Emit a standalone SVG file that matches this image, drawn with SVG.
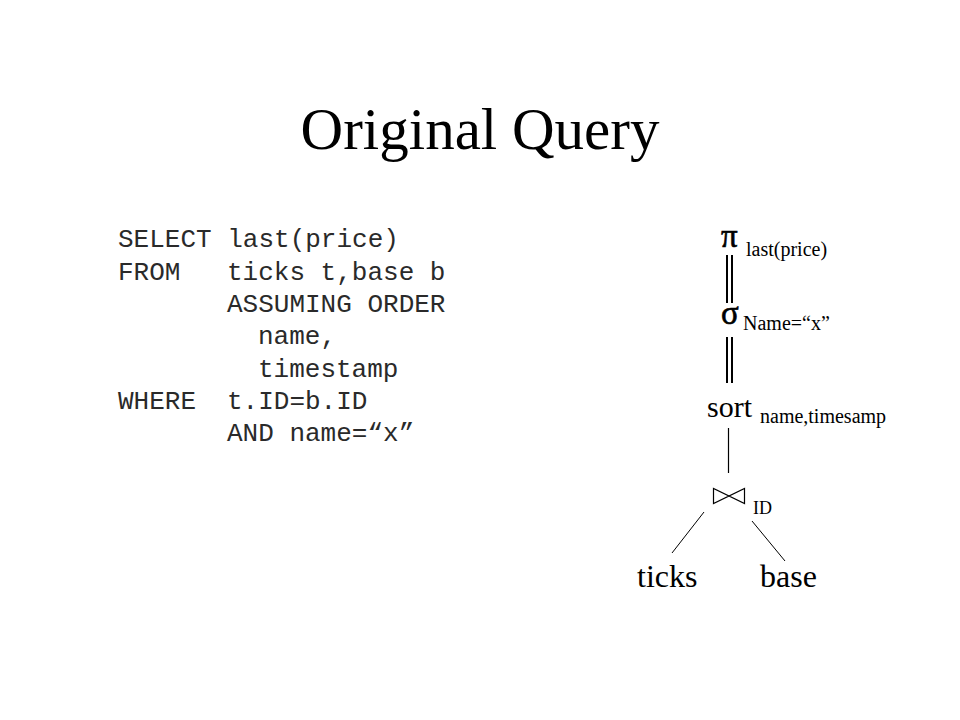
<svg xmlns="http://www.w3.org/2000/svg" width="960" height="720" viewBox="0 0 960 720">
<style>
.serif{font-family:"Liberation Serif","Times New Roman",serif;fill:#000}
.mono{font-family:"Liberation Mono","Courier New",monospace;font-size:26px;fill:#2a2a2a}
.sub{font-size:20px}
.big{font-size:30px}
.greek{font-size:33px;stroke:#000;stroke-width:0.6}
.edge{stroke:#000;fill:none}
</style>
<rect width="960" height="720" fill="#fff"/>
<text class="serif" x="480" y="149" font-size="59" text-anchor="middle">Original Query</text>
<g id="sql">
<text class="mono" x="118" y="247">SELECT last(price)</text>
<text class="mono" x="118" y="280">FROM</text>
<text class="mono" x="227" y="280">ticks t,base b</text>
<text class="mono" x="227" y="312">ASSUMING ORDER</text>
<text class="mono" x="258" y="344">name,</text>
<text class="mono" x="258" y="377">timestamp</text>
<text class="mono" x="118" y="409">WHERE</text>
<text class="mono" x="227" y="409">t.ID=b.ID</text>
<text class="mono" x="227" y="441">AND name=“x”</text>
</g>
<g id="connectors">
<line class="edge" x1="727" y1="255" x2="727" y2="303" stroke-width="2"/>
<line class="edge" x1="732" y1="255" x2="732" y2="303" stroke-width="2"/>
<line class="edge" x1="727" y1="337" x2="727" y2="383" stroke-width="2"/>
<line class="edge" x1="732" y1="337" x2="732" y2="383" stroke-width="2"/>
<line class="edge" x1="728.5" y1="428" x2="728.5" y2="473" stroke-width="1.2"/>
<line class="edge" x1="704" y1="512" x2="672" y2="553" stroke-width="1"/>
<line class="edge" x1="752" y1="521" x2="785" y2="561" stroke-width="1"/>
</g>
<g id="project">
<text class="serif greek" x="721" y="247">π</text>
<text class="serif sub" x="746" y="256">last(price)</text>
</g>
<g id="select">
<text class="serif greek" x="721" y="324">σ</text>
<text class="serif sub" x="743" y="330">Name=“x”</text>
</g>
<g id="sort">
<text class="serif big" x="707" y="417">sort</text>
<text class="serif sub" x="760" y="423">name,timesamp</text>
</g>
<g id="join">
<path class="edge" d="M713.5 488.5 L713.5 503.5 L744.5 488.5 L744.5 503.5 Z" stroke-width="1.2"/>
<text class="serif" x="753" y="514" font-size="18">ID</text>
</g>
<g id="ticks">
<text class="serif" x="637" y="587" font-size="32">ticks</text>
</g>
<g id="base">
<text class="serif" x="760" y="587" font-size="32">base</text>
</g>
</svg>
